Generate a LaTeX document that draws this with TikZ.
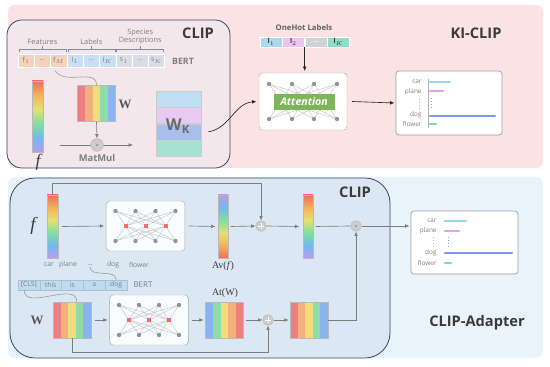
\documentclass[tikz,border=0pt]{standalone}
\usepackage{fontspec}
\setmainfont{Open Sans}
\newfontfamily\serifw{Liberation Serif}
\usepackage{xcolor}
\usepackage{tikz}
\usetikzlibrary{arrows.meta, positioning, calc}

\definecolor{kipink}{HTML}{FBE3E3}
\definecolor{clipfillA}{HTML}{F3E7EC}
\definecolor{adbg}{HTML}{E8F3FB}
\definecolor{clipfillB}{HTML}{DCE7F4}
\definecolor{navy}{HTML}{3B4868}
\definecolor{txtgray}{HTML}{7F7F7F}
\definecolor{txtdark}{HTML}{3A3A3A}
\definecolor{linegray}{HTML}{7C7C7C}
\definecolor{cellf}{HTML}{F5D2BC}
\definecolor{celll}{HTML}{C9DFF4}
\definecolor{cells}{HTML}{D9DEE6}
\definecolor{cellb}{HTML}{BEDCF0}
\definecolor{sred}{HTML}{EE7F80}
\definecolor{sorange}{HTML}{F4B07C}
\definecolor{syellow}{HTML}{F2DD7C}
\definecolor{sgreen}{HTML}{8FDDA6}
\definecolor{sblue}{HTML}{8CB3EE}
\definecolor{rbred}{HTML}{F06E5A}
\definecolor{rborange}{HTML}{F4B25A}
\definecolor{rbyellow}{HTML}{E6E070}
\definecolor{rbgreen}{HTML}{7EE0A0}
\definecolor{rbblue}{HTML}{72B8F0}
\definecolor{rbpurple}{HTML}{B99AF0}
\definecolor{wkblue}{HTML}{BEDFF2}
\definecolor{wkpink}{HTML}{E7C9F2}
\definecolor{wkmid}{HTML}{A9BEEC}
\definecolor{wkteal}{HTML}{A7E1D2}
\definecolor{ohblue}{HTML}{A9D8F2}
\definecolor{ohpink}{HTML}{EFC3F0}
\definecolor{ohgray}{HTML}{CFD3D8}
\definecolor{ohteal}{HTML}{8FDCC8}
\definecolor{attgreen}{HTML}{7DB65A}
\definecolor{netred}{HTML}{F26C6C}
\definecolor{barcar}{HTML}{9BD2EE}
\definecolor{barplane}{HTML}{E79CF0}
\definecolor{bardog}{HTML}{7D9DE4}
\definecolor{barflower}{HTML}{7FD9C1}

\pgfdeclareverticalshading{rainbowdown}{100bp}{color(0bp)=(rbpurple); color(25bp)=(rbpurple); color(35bp)=(rbblue); color(45bp)=(rbgreen); color(55bp)=(rbyellow); color(65bp)=(rborange); color(75bp)=(rbred); color(100bp)=(rbred)}
\pgfdeclareverticalshading{rainbowup}{100bp}{color(0bp)=(rbred); color(25bp)=(rbred); color(35bp)=(rborange); color(45bp)=(rbyellow); color(55bp)=(rbgreen); color(65bp)=(rbblue); color(75bp)=(rbpurple); color(100bp)=(rbpurple)}

\begin{document}
\begin{tikzpicture}[
  x=0.3mm, y=0.3mm,
  font=\fontsize{6}{7}\selectfont,
  title/.style={font=\fontsize{12.5}{14}\selectfont\bfseries, text=txtdark},
  grp/.style={font=\fontsize{6.3}{7}\selectfont, text=txtgray, align=center, inner sep=1pt},
  cell/.style={draw=white, minimum width=4.89mm, minimum height=3.9mm, inner sep=0pt,
               text=txtgray, font=\fontsize{6}{6.5}\selectfont},
  tok/.style={draw=cellb!70!gray, fill=cellb, minimum width=6.54mm, minimum height=3mm,
              inner sep=0pt, text=txtgray, font=\fontsize{5.8}{6}\selectfont},
  ohcell/.style={draw=white, minimum width=6.6mm, minimum height=3mm, inner sep=0pt,
                 text=txtdark, font=\fontsize{5.8}{6}\selectfont\bfseries},
  brk/.style={draw=celll!60!blue!70!gray, line width=0.5pt},
  bert/.style={font=\fontsize{7.5}{8}\selectfont\bfseries, text=txtgray},
  wd/.style={font=\fontsize{5.8}{6.5}\selectfont, text=txtgray, inner sep=1pt},
  rbar/.style={draw=gray!55, inner sep=0pt, minimum width=3.3mm, shade, shading=#1},
  stripes/.style={path picture={
      \foreach \c [count=\i from 0] in {#1}
        \fill[\c] ($(path picture bounding box.south west)!{\i/5}!(path picture bounding box.south east)$)
          rectangle ($(path picture bounding box.north west)!{(\i+1)/5}!(path picture bounding box.north east)$);}},
  mat/.style={draw=gray!55, inner sep=0pt, minimum width=11.3mm, minimum height=10.9mm},
  wkrow/.style={draw=gray!40, inner sep=0pt, minimum width=13.5mm, minimum height=4.8mm},
  netbox/.style={draw=gray!65, fill=white!75!adbg, rounded corners=3pt, inner sep=0pt,
                 minimum width=23.6mm, minimum height=15mm},
  nd/.style={circle, fill=gray!85, inner sep=0pt, minimum size=1.3mm},
  ndr/.style={rectangle, fill=netred, inner sep=0pt, minimum size=1.2mm},
  edge/.style={draw=gray!55, line width=0.3pt},
  opc/.style={circle, fill=gray!40, draw=gray!55, inner sep=0pt, minimum size=3.2mm},
  plusop/.style={opc, path picture={
      \draw[white, line width=0.6pt] ($(path picture bounding box.center)+(-0.9mm,0)$) -- ++(1.8mm,0)
        ($(path picture bounding box.center)+(0,-0.9mm)$) -- ++(0,1.8mm);}},
  dotop/.style={opc, path picture={
      \fill[gray!85] (path picture bounding box.center) circle (0.35mm);}},
  chart/.style={draw=gray!75, fill=white, rounded corners=2.5pt, line width=0.6pt, inner sep=0pt},
  clab/.style={font=\fontsize{5.5}{6}\selectfont, text=txtgray, anchor=east, inner sep=1pt},
  bar/.style={line width=0.7mm, line cap=round},
  ar/.style={-{Latex[length=1.3mm, width=1.1mm]}, draw=linegray, line width=0.55pt},
  arb/.style={ar, draw=black!85}
]
\useasboundingbox (0,0) rectangle (550,366);

% panels
\fill[kipink, rounded corners=2mm] (8,361) rectangle (543,198);
\fill[adbg, rounded corners=2mm] (8,189) rectangle (543,8);
\filldraw[fill=clipfillA, draw=navy, line width=0.7pt, rounded corners=4.5mm] (7,346) rectangle (230,198);
\filldraw[fill=clipfillB, draw=navy, line width=0.7pt, rounded corners=7.5mm] (10,188) rectangle (390,8);

\node[title] (clipA) at (198,333) {CLIP};
\node[title] (kiclip) at (476,333) {KI-CLIP};
\node[title] (clipB) at (355,174) {CLIP};
\node[title] (adapter) at (477,43) {CLIP-Adapter};

%% ---------- KI-CLIP ----------
\foreach \t/\c [count=\i from 0] in {f$_1$/cellf, \dots/cellf, f$_M$/cellf,
    l$_1$/celll, \dots/celll, l$_K$/celll, s$_1$/cells, \dots/cells, s$_K$/cells}
  \node[cell, fill=\c] (t\i) at ({26.15+16.3*\i},305.5) {\t};
\foreach \a/\m/\b in {t0/t1/t2, t3/t4/t5, t6/t7/t8} {
  \draw[brk] ([xshift=1pt,yshift=1.5pt]\a.north west) -- ([xshift=1pt,yshift=4.2pt]\a.north west)
    -- ([xshift=-1pt,yshift=4.2pt]\b.north east) -- ([xshift=-1pt,yshift=1.5pt]\b.north east);
  \draw[brk] ([yshift=4.2pt]\m.north) -- ([yshift=6.5pt]\m.north);
}
\node[grp, above=6.5pt of t1] (gfeat) {Features};
\node[grp, above=6.5pt of t4] (glab) {Labels};
\node[grp, above=6.5pt of t7] (gspec) {Species\\Descriptions};
\node[bert] (bertA) at (183,305) {BERT};

\node[rbar=rainbowdown, minimum height=21.3mm] (fA) at (37.5,249.5) {};
\node[font=\fontsize{15}{15}\selectfont\serifw\itshape, text=txtdark] (fAl) at (38,204) {f};

\node[mat, stripes={sred,sorange,syellow,sgreen,sblue}] (wA) at (96.5,262.5) {};
\node[font=\fontsize{11}{11}\selectfont\serifw\bfseries, text=txtdark!85] (wAl) at (125,262) {W};
\draw[edge, draw=gray!80, line width=0.5pt] (t2.south) ++(-3pt,-3pt) to[out=-60,in=90] (wA.north);

\coordinate (mmin) at (60,221);
\coordinate (mmout) at (133,221);
\draw[ar] (mmin) -- (mmout);
\node[dotop, minimum size=3.8mm] (mul) at (97,221) {};
\draw[ar] (wA.south) -- (mul.north);
\node[font=\fontsize{8}{9}\selectfont\bfseries, text=txtgray] (mull) at (97,208) {MatMul};

\node[wkrow, fill=wkblue] (wk1) at (178.5,267) {};
\node[wkrow, fill=wkpink, below=0pt of wk1] (wk2) {};
\node[wkrow, fill=wkmid, below=0pt of wk2] (wk3) {};
\node[wkrow, fill=wkteal, below=0pt of wk3] (wk4) {};
\node[font=\fontsize{14}{14}\selectfont\bfseries, text=txtdark!75] (wkl) at (178,240) {W\textsubscript{K}};

\node[ohcell, fill=ohblue] (o1) at (271,324) {l$_1$};
\node[ohcell, fill=ohpink, right=0pt of o1] (o2) {l$_2$};
\node[ohcell, fill=ohgray, right=0pt of o2, text=white] (o3) {\dots};
\node[ohcell, fill=ohteal, right=0pt of o3] (o4) {l$_K$};
\node[font=\fontsize{6.6}{7}\selectfont\bfseries, text=txtdark!80] (ohl) at (304,338) {OneHot Labels};

\node[netbox, fill=white, minimum width=26.4mm, minimum height=17.1mm] (att) at (303,264.5) {};
\foreach \a in {-34,-11,11,34} \foreach \b in {-22,0,22} {
  \draw[edge] ($(att)+(\a,17.5)$) -- ($(att)+(\b,0)$);
  \draw[edge] ($(att)+(\b,0)$) -- ($(att)+(\a,-17.5)$);
}
\foreach \a in {-34,-11,11,34} {
  \node[nd] at ($(att)+(\a,17.5)$) {};
  \node[nd] at ($(att)+(\a,-17.5)$) {};
}
\node[fill=attgreen, minimum width=18.3mm, minimum height=4.8mm, inner sep=0pt, text=white,
      font=\fontsize{9}{9}\selectfont\bfseries\itshape] (attl) at (304,264) {Attention};
\draw[arb, shorten >=1.5pt] (o2.south east) -- (o2.south east |- att.north);
\draw[arb] ([xshift=6pt]wk3.east) to[out=10,in=185] ([xshift=-2pt]att.west);

\node[chart, minimum width=31.8mm, minimum height=19.2mm] (chA) at (449,263) {};
\draw[arb] ([xshift=4pt]att.east) -- ([xshift=-1pt]chA.west);
\node[clab] (ca1) at (423,284) {car};
\node[clab] (ca2) at (423,274) {plane};
\node[clab] (ca3) at (423,251) {dog};
\node[clab] (ca4) at (423,242) {flower};
\draw[gray!60, dotted, line width=0.6pt] (419,267) -- (419,257);
\draw[gray!60, line width=0.5pt] (428,287) -- (428,238);
\draw[bar, barcar] (430,284) -- (450,284);
\draw[bar, barplane] (430,275) -- (443,275);
\draw[barcar!80!blue, dotted, line width=0.6pt] (431,268) -- (431,256);
\draw[bar, bardog] (430,250) -- (495,250);
\draw[bar, barflower] (430,242) -- (436,242);

%% ---------- CLIP-Adapter ----------
\node[rbar=rainbowdown, minimum height=18.9mm] (fB) at (52.5,139.5) {};
\node[font=\fontsize{16}{16}\selectfont\serifw\itshape, text=txtdark] (fBl) at (33,140) {f};

\node[netbox] (net1) at (145.5,140) {};
\node[netbox] (net2) at (149,46) {};
\foreach \n in {net1,net2} {
  \foreach \a in {-30,-10,10,30} \foreach \b in {-20,0,20} {
    \draw[edge] ($(\n)+(\a,15)$) -- ($(\n)+(\b,0)$);
    \draw[edge] ($(\n)+(\b,0)$) -- ($(\n)+(\a,-15)$);
  }
  \foreach \a in {-30,-10,10,30} {
    \node[nd] at ($(\n)+(\a,15)$) {};
    \node[nd] at ($(\n)+(\a,-15)$) {};
  }
  \foreach \b in {-20,0,20} \node[ndr] at ($(\n)+(\b,0)$) {};
}

\node[rbar=rainbowup, minimum width=3mm, minimum height=18.9mm] (av) at (223,139.5) {};
\node[font=\fontsize{8.5}{9}\selectfont\serifw, text=txtdark] (avl) at (223,100) {Av(\textit{f})};
\node[plusop] (plusA) at (261,140) {};
\node[rbar=rainbowdown, minimum width=3mm, minimum height=18.9mm] (bar2) at (308,139.5) {};
\node[dotop] (dotB) at (356,140) {};

\draw[ar] (fB.north) -- ++(0,11) -| (plusA.north);
\draw[ar] ([xshift=3pt]fB.east) -- ([xshift=-1.5pt]net1.west);
\draw[ar] ([xshift=3pt]net1.east) -- ([xshift=-2pt]av.west);
\draw[ar] ([xshift=2pt]av.east) -- (plusA.west);
\draw[ar] (plusA.east) -- ([xshift=-3pt]bar2.west);
\draw[draw=linegray, line width=0.55pt] ([xshift=2pt]bar2.east) -- (dotB.west);

\node[wd] (w1) at (49,101) {car};
\node[wd] (w2) at (68,101) {plane};
\node[wd] (w3) at (90,101) {\dots};
\node[wd] (w4) at (113,101) {dog};
\node[wd] (w5) at (139,101) {flower};

\foreach \t [count=\i from 0] in {[CLS], this, is, a, dog}
  \node[tok] (b\i) at ({28.9+21.8*\i},81) {\t};
\node[bert, font=\fontsize{6.8}{7}\selectfont] (bertB) at (143,81) {BERT};
\draw[edge, draw=gray!80, line width=0.5pt] (w3.south) to[out=-90,in=90] (b4.north);

\node[mat, stripes={sred,sorange,syellow,sgreen,sblue}] (wB) at (72,46) {};
\node[font=\fontsize{11}{11}\selectfont\serifw\bfseries, text=txtdark!85] (wBl) at (37,46) {W};
\draw[edge, draw=gray!80, line width=0.5pt] ([xshift=-4pt]b0.south) to[out=-90,in=90] ([xshift=4pt]wB.north);

\node[mat, stripes={sblue,sgreen,syellow,sorange,sred}] (atw) at (224.5,46) {};
\node[font=\fontsize{8.5}{9}\selectfont\serifw, text=txtdark] (atl) at (225,73) {At(W)};
\node[plusop] (plusB) at (268,46) {};
\node[mat, stripes={sred,sorange,syellow,sgreen,sblue}] (w2b) at (309,46) {};

\draw[ar] ([xshift=3pt]wB.east) -- ([xshift=-1.5pt]net2.west);
\draw[ar] ([xshift=3pt]net2.east) -- ([xshift=-1.5pt]atw.west);
\draw[ar] ([xshift=2pt]atw.east) -- (plusB.west);
\draw[ar] (plusB.east) -- ([xshift=-1pt]w2b.west);
\draw[ar] (wB.south) -- ++(0,-14) -| (plusB.south);
\draw[ar] (w2b.east) -| (dotB.south);

\node[chart, minimum width=32.1mm, minimum height=18.9mm] (chB) at (464.5,123.5) {};
\draw[ar] (dotB.east) -- ([xshift=-1pt]dotB.east -| chB.west);
\node[clab] (cb1) at (438,145) {car};
\node[clab] (cb2) at (438,135) {plane};
\node[clab] (cb3) at (438,113) {dog};
\node[clab] (cb4) at (438,103) {flower};
\draw[gray!60, dotted, line width=0.6pt] (433,129) -- (433,119);
\draw[bar, barcar] (445,145) -- (466,145);
\draw[bar, barplane] (445,135) -- (459,135);
\draw[barcar!80!blue, dotted, line width=0.6pt] (448,129) -- (448,118);
\draw[bar, bardog] (445,113) -- (512,113);
\draw[bar, barflower] (445,103) -- (451,103);
\end{tikzpicture}
\end{document}
